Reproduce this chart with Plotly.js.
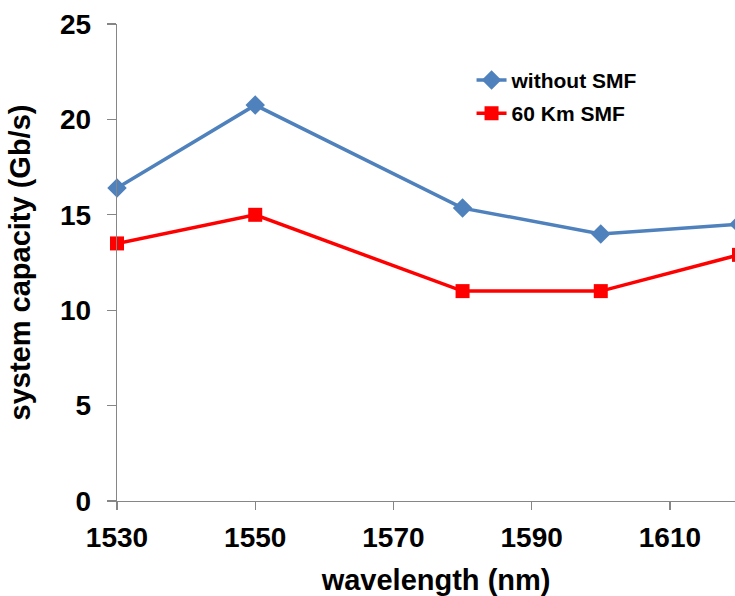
<!DOCTYPE html>
<html>
<head>
<meta charset="utf-8">
<script src="https://cdn.plot.ly/plotly-3.0.1.min.js"></script>
<style>html,body{margin:0;padding:0;background:#fff;overflow:hidden;}#chart{width:739px;height:596px;}</style>
</head>
<body>
<div id="chart"></div>
<script>
const wavelengths = [1530, 1550, 1580, 1600, 1620];
const withoutSMF = [16.4, 20.75, 15.35, 14.0, 14.5];
const km60SMF = [13.5, 15.0, 11.0, 11.0, 12.9];
const seriesNames = ["without SMF", "60 Km SMF"];
const xTicks = [1530, 1550, 1570, 1590, 1610];
const yTicks = [0, 5, 10, 15, 20, 25];

const traces = [
  {
    x: wavelengths, y: withoutSMF, name: seriesNames[0], type: "scatter", mode: "lines+markers",
    legendgroup: "a",
    line: {color: "#4F81BD", width: 3.5},
    marker: {symbol: "diamond", size: 15, color: "#4F81BD"},
    cliponaxis: false
  },
  {
    x: wavelengths, y: km60SMF, name: seriesNames[1], type: "scatter", mode: "lines+markers",
    legendgroup: "b",
    line: {color: "#FF0000", width: 3.5},
    marker: {symbol: "square", size: 14, color: "#FF0000"},
    cliponaxis: false
  }
];

const layout = {
  width: 739, height: 596,
  margin: {l: 117, r: 0, t: 24, b: 95},
  paper_bgcolor: "#ffffff", plot_bgcolor: "#ffffff",
  showlegend: true,
  legend: {
    x: 0.57, y: 0.925, xanchor: "left", yanchor: "top",
    font: {family: "Liberation Sans, Arial, sans-serif", size: 21, color: "#000", weight: "bold"},
    bgcolor: "rgba(0,0,0,0)", tracegroupgap: 3, itemwidth: 30
  },
  xaxis: {
    range: [1530, 1620], tickvals: xTicks, ticktext: xTicks.map(String),
    showgrid: false, zeroline: false, showline: true, linecolor: "#868686", linewidth: 1.3,
    ticks: "outside", ticklen: 8, tickcolor: "#868686", tickwidth: 1.3,
    ticklabelstandoff: 3,
    tickfont: {family: "Liberation Sans, Arial, sans-serif", size: 28, color: "#000", weight: "bold"},
    title: {text: "&#160;&#160;<b>wavelength (nm)</b>", standoff: 18,
      font: {family: "Liberation Sans, Arial, sans-serif", size: 29, color: "#000"}}
  },
  yaxis: {
    range: [0, 25], tickvals: yTicks, ticktext: yTicks.map(String),
    showgrid: false, zeroline: false, showline: true, linecolor: "#868686", linewidth: 1.3,
    ticks: "outside", ticklen: 9, tickcolor: "#868686", tickwidth: 1.3,
    ticklabelstandoff: 10,
    tickfont: {family: "Liberation Sans, Arial, sans-serif", size: 28, color: "#000", weight: "bold"},
    title: {text: "<b>system capacity (Gb/s)</b>", standoff: 20,
      font: {family: "Liberation Sans, Arial, sans-serif", size: 29, color: "#000"}}
  }
};

Plotly.newPlot("chart", traces, layout, {displayModeBar: false, staticPlot: true});
</script>
</body>
</html>
